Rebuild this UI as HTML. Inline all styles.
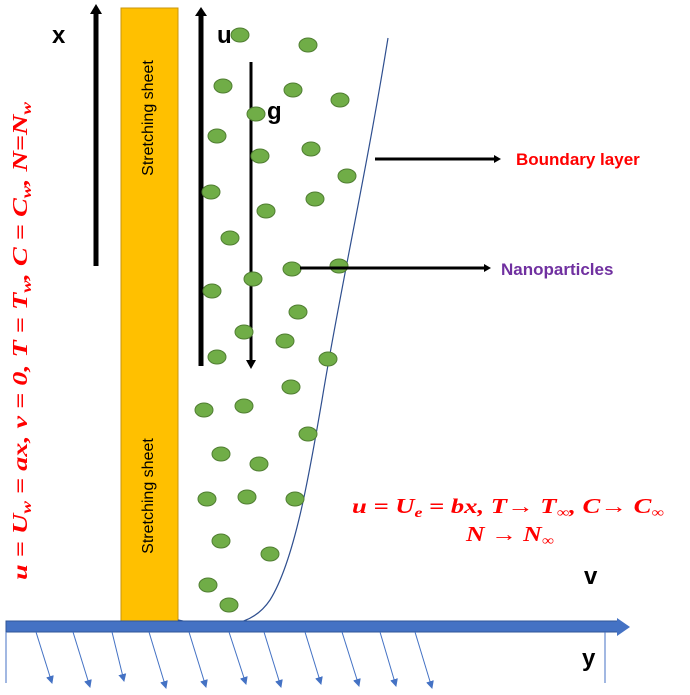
<!DOCTYPE html>
<html><head><style>body{margin:0;background:#fff}svg{display:block}</style></head><body>
<svg width="690" height="695" xmlns="http://www.w3.org/2000/svg" font-family="Liberation Sans, sans-serif">
<defs>
<marker id="abl" markerWidth="8" markerHeight="8" refX="7" refY="4" orient="auto" markerUnits="userSpaceOnUse"><path d="M0,0 L8,4 L0,8z" fill="#4472C4"/></marker>
</defs>
<rect x="121" y="8" width="57" height="613" fill="#FFC000" stroke="#C9960C" stroke-width="1"/>
<text transform="translate(153,118) rotate(-90)" text-anchor="middle" font-size="16">Stretching sheet</text>
<text transform="translate(153,496) rotate(-90)" text-anchor="middle" font-size="16">Stretching sheet</text>
<line x1="96" y1="266" x2="96" y2="12" stroke="#000" stroke-width="5"/>
<path d="M90,14 L96,4 L102,14z" fill="#000"/>
<line x1="201" y1="366" x2="201" y2="14" stroke="#000" stroke-width="5"/>
<path d="M195,16 L201,7 L207,16z" fill="#000"/>
<line x1="251" y1="62" x2="251" y2="362" stroke="#000" stroke-width="3"/>
<path d="M246,360 L251,369 L256,360z" fill="#000"/>
<text x="52" y="43" font-size="24" font-weight="bold">x</text>
<text x="217" y="43" font-size="24" font-weight="bold">u</text>
<text x="267" y="119" font-size="24" font-weight="bold">g</text>
<text x="584" y="584" font-size="24" font-weight="bold">v</text>
<text x="582" y="666" font-size="24" font-weight="bold">y</text>
<path d="M178,620 C215,628 250,630 270,600 C295,560 310,470 322,400 C340,290 365,180 388,38" fill="none" stroke="#2F4F8F" stroke-width="1.2"/>
<g fill="#70AD47" stroke="#507E32" stroke-width="1">
<ellipse cx="240" cy="35" rx="9" ry="7"/><ellipse cx="308" cy="45" rx="9" ry="7"/>
<ellipse cx="223" cy="86" rx="9" ry="7"/><ellipse cx="293" cy="90" rx="9" ry="7"/><ellipse cx="340" cy="100" rx="9" ry="7"/>
<ellipse cx="256" cy="114" rx="9" ry="7"/><ellipse cx="217" cy="136" rx="9" ry="7"/><ellipse cx="311" cy="149" rx="9" ry="7"/>
<ellipse cx="260" cy="156" rx="9" ry="7"/><ellipse cx="347" cy="176" rx="9" ry="7"/><ellipse cx="211" cy="192" rx="9" ry="7"/>
<ellipse cx="315" cy="199" rx="9" ry="7"/><ellipse cx="266" cy="211" rx="9" ry="7"/><ellipse cx="230" cy="238" rx="9" ry="7"/>
<ellipse cx="253" cy="279" rx="9" ry="7"/><ellipse cx="292" cy="269" rx="9" ry="7"/><ellipse cx="339" cy="266" rx="9" ry="7"/>
<ellipse cx="212" cy="291" rx="9" ry="7"/><ellipse cx="298" cy="312" rx="9" ry="7"/><ellipse cx="244" cy="332" rx="9" ry="7"/>
<ellipse cx="285" cy="341" rx="9" ry="7"/><ellipse cx="217" cy="357" rx="9" ry="7"/><ellipse cx="328" cy="359" rx="9" ry="7"/>
<ellipse cx="291" cy="387" rx="9" ry="7"/><ellipse cx="204" cy="410" rx="9" ry="7"/><ellipse cx="244" cy="406" rx="9" ry="7"/>
<ellipse cx="308" cy="434" rx="9" ry="7"/><ellipse cx="221" cy="454" rx="9" ry="7"/><ellipse cx="259" cy="464" rx="9" ry="7"/>
<ellipse cx="207" cy="499" rx="9" ry="7"/><ellipse cx="247" cy="497" rx="9" ry="7"/><ellipse cx="295" cy="499" rx="9" ry="7"/>
<ellipse cx="221" cy="541" rx="9" ry="7"/><ellipse cx="270" cy="554" rx="9" ry="7"/><ellipse cx="208" cy="585" rx="9" ry="7"/>
<ellipse cx="229" cy="605" rx="9" ry="7"/>
</g>
<line x1="375" y1="159" x2="497" y2="159" stroke="#000" stroke-width="3"/>
<path d="M494,155 L501,159 L494,163z" fill="#000"/>
<line x1="300" y1="268" x2="487" y2="268" stroke="#000" stroke-width="3"/>
<path d="M484,264 L491,268 L484,272z" fill="#000"/>
<text x="516" y="165" font-size="17" font-weight="bold" fill="#FF0000">Boundary layer</text>
<text x="501" y="275" font-size="17" font-weight="bold" fill="#7030A0">Nanoparticles</text>
<text transform="translate(27,580) rotate(-90)" font-family="Liberation Serif, serif" font-size="21" font-weight="bold" font-style="italic" fill="#FF0000" textLength="478" lengthAdjust="spacingAndGlyphs">u = U<tspan font-size="14" dy="4">w</tspan><tspan dy="-4"> = ax, v = 0, T = T</tspan><tspan font-size="14" dy="4">w</tspan><tspan dy="-4">, C = C</tspan><tspan font-size="14" dy="4">w</tspan><tspan dy="-4">, N=N</tspan><tspan font-size="14" dy="4">w</tspan></text>
<text x="352" y="513" font-family="Liberation Serif, serif" font-size="21" font-weight="bold" font-style="italic" fill="#FF0000" textLength="312" lengthAdjust="spacingAndGlyphs">u = U<tspan font-size="14" dy="4">e</tspan><tspan dy="-4"> = bx,  T→ T</tspan><tspan font-size="14" dy="4">∞</tspan><tspan dy="-4">,  C→ C</tspan><tspan font-size="14" dy="4">∞</tspan></text>
<text x="466" y="541" font-family="Liberation Serif, serif" font-size="21" font-weight="bold" font-style="italic" fill="#FF0000" textLength="88" lengthAdjust="spacingAndGlyphs">N → N<tspan font-size="14" dy="4">∞</tspan></text>
<rect x="6" y="621" width="612" height="11" fill="#4472C4" stroke="#2F5597" stroke-width="1"/>
<path d="M617,618 L630,627 L617,636z" fill="#4472C4"/>
<line x1="6" y1="632" x2="6" y2="683" stroke="#4472C4" stroke-width="1"/>
<line x1="605" y1="632" x2="605" y2="683" stroke="#4472C4" stroke-width="1"/>
<g stroke="#4472C4" stroke-width="1" marker-end="url(#abl)">
<line x1="36" y1="632" x2="52" y2="683"/><line x1="73" y1="632" x2="90" y2="687"/>
<line x1="112" y1="632" x2="124" y2="681"/><line x1="149" y1="632" x2="166" y2="688"/>
<line x1="189" y1="632" x2="206" y2="687"/><line x1="229" y1="632" x2="246" y2="684"/>
<line x1="264" y1="632" x2="281" y2="687"/><line x1="305" y1="632" x2="321" y2="684"/>
<line x1="342" y1="632" x2="359" y2="686"/><line x1="380" y1="632" x2="396" y2="686"/>
<line x1="415" y1="632" x2="432" y2="688"/>
</g>
</svg>
</body></html>
